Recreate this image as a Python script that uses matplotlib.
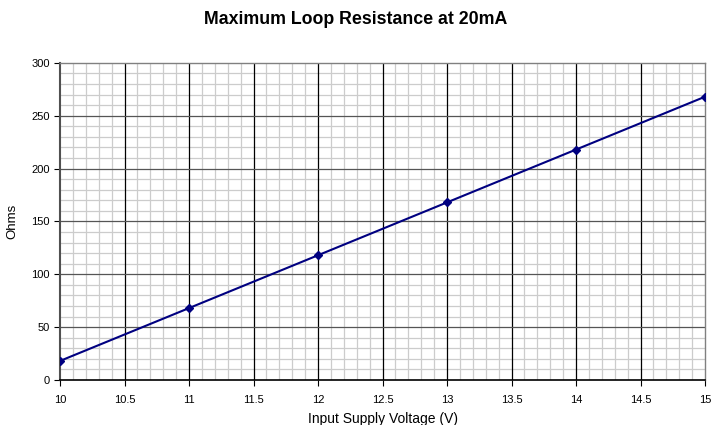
import numpy as np
import matplotlib
matplotlib.use("Agg")
import matplotlib.pyplot as plt
from matplotlib.ticker import MultipleLocator

plt.rcParams["font.family"] = ["Liberation Sans", "DejaVu Sans"]

# data
voltage = [10, 11, 12, 13, 14, 15]
ohms = [18, 68, 118, 168, 218, 268]

fig = plt.figure(figsize=(7.11, 4.25), dpi=100)
ax = fig.add_axes([0.0844, 0.106, 0.9072, 0.746])

ax.set_xlim(10, 15)
ax.set_ylim(0, 300)
ax.xaxis.set_major_locator(MultipleLocator(0.5))
ax.xaxis.set_minor_locator(MultipleLocator(0.1))
ax.yaxis.set_major_locator(MultipleLocator(50))
ax.yaxis.set_minor_locator(MultipleLocator(10))

# minor grid from the axis, major lines drawn on top of it
ax.grid(which="minor", color="#cccccc", linewidth=0.9, zorder=0)
ax.set_axisbelow(True)
xmaj = [v for v in ax.get_xticks() if 10 < v < 15]
ymaj = [v for v in ax.get_yticks() if 0 < v < 300]
ax.vlines(xmaj, 0, 300, colors="#000000", linewidth=0.9, zorder=1.5)
ax.hlines(ymaj, 10, 15, colors="#555555", linewidth=0.9, zorder=1.5)

ax.plot(voltage, ohms, color="#000080", linewidth=1.5, marker="D",
        markersize=4, zorder=5)

ax.tick_params(which="major", direction="out", length=4, width=0.8,
               labelsize=8, colors="#000000")
ax.tick_params(which="minor", length=0)
ax.tick_params(axis="x", pad=7)

ax.xaxis.set_major_formatter(plt.FuncFormatter(lambda v, p: f"{v:g}"))

for side in ["top", "right"]:
    ax.spines[side].set_color("#808080")
    ax.spines[side].set_linewidth(1.0)
ax.spines["left"].set_color("#505050")
ax.spines["left"].set_linewidth(1.5)
ax.spines["bottom"].set_color("#000000")
ax.spines["bottom"].set_linewidth(1.2)

ax.set_xlabel("Input Supply Voltage (V)", fontsize=10, labelpad=5)
ax.set_ylabel("Ohms", fontsize=9.5, labelpad=9)
fig.suptitle("Maximum Loop Resistance at 20mA", fontsize=12.8, fontweight="bold",
             y=0.955, va="center")

fig.savefig("out.png", dpi=100)
